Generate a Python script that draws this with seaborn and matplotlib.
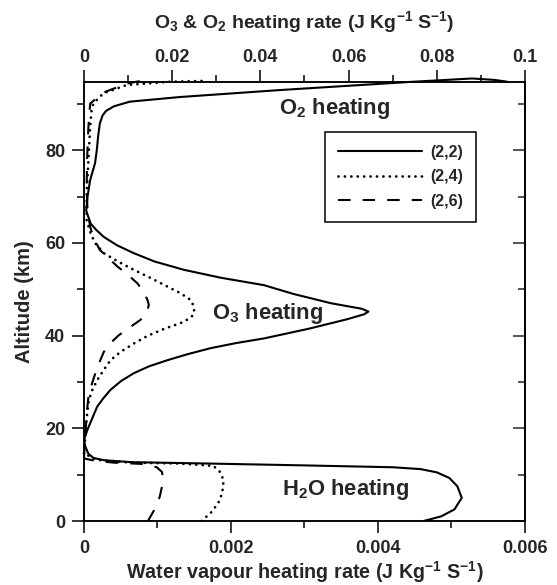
import numpy as np
import pandas as pd
import matplotlib
matplotlib.use("Agg")
import matplotlib.pyplot as plt
import seaborn as sns

# Water vapour heating (bottom axis), low altitudes
h2o_alt_22 = [0, 1, 2.5, 5, 7.5, 9.3, 10.5, 11.2, 11.6, 12.0, 12.4, 12.7, 13.1, 13.6, 14.5, 16, 17.5]
h2o_val_22 = [0.00462, 0.00486, 0.00504, 0.00514, 0.00508, 0.00497, 0.00480, 0.00458, 0.00420,
              0.00300, 0.00170, 0.00065, 0.00028, 0.00013, 0.00006, 0.00002, 0.0]
h2o_alt_24 = [0, 2, 4, 6, 8.8, 10.6, 11.9, 12.4, 12.6, 13.2, 14.6]
h2o_val_24 = [0.0016, 0.00174, 0.00183, 0.00188, 0.0019, 0.00185, 0.00176, 0.0013, 0.00063, 0.00017, 0.0]
h2o_alt_26 = [0, 2.5, 5.2, 8.8, 10.6, 11.6, 12.3, 12.6, 13.0, 13.5]
h2o_val_26 = [0.00087, 0.00096, 0.00103, 0.00108, 0.00106, 0.00099, 0.00081, 0.0004, 0.00015, 0.0]

# O3 & O2 heating (top axis), upper altitudes
o_alt_22 = [17.5, 19.6, 22, 24.7, 26.5, 28.3, 30.2, 31.9, 33.4, 34.7, 36.0, 37.3, 38.4, 39.4, 41.5,
            43.5, 44.6, 45.2, 45.8, 47.0, 49.0, 50.9, 52.5, 54.2, 56.0, 57.8, 59.5, 61.3, 62.8, 64.2,
            67, 70, 73.6, 77.2, 80, 83, 85.8, 87.5, 88.5, 89.5, 90.5, 91.5, 93.0, 94.8, 95.5, 95.2, 94.8]
o_val_22 = [0.0, 0.00075, 0.0018, 0.003, 0.0044, 0.006, 0.0084, 0.0113, 0.0148, 0.0189, 0.0235, 0.0287,
            0.0345, 0.0408, 0.051, 0.0595, 0.0635, 0.0645, 0.0630, 0.056, 0.0475, 0.0408, 0.031,
            0.0227, 0.016, 0.0113, 0.0075, 0.0045, 0.0028, 0.0015, 0.0005, 0.0008, 0.0014, 0.0025,
            0.0029, 0.0032, 0.0036, 0.0042, 0.0050, 0.0068, 0.0104, 0.0218, 0.0444, 0.0747, 0.088,
            0.093, 0.096]
o_alt_24 = [14.6, 17, 20, 23, 26.1, 28.3, 30.4, 32.5, 34.7, 36.5, 38.3, 40.0, 41.4, 43.0, 44.2, 45.2,
            46.5, 47.7, 49.2, 50.6, 52.4, 54.2, 56.0, 57.8, 60, 62.1, 64.9, 70.7, 77.9, 85.1, 88.5,
            90.1, 92.3, 94.1, 94.8, 95]
o_val_24 = [0.0, 0.0002, 0.0004, 0.0007, 0.0011, 0.0019, 0.003, 0.0044, 0.006, 0.0083, 0.0113, 0.0145,
            0.018, 0.0227, 0.0245, 0.025, 0.0248, 0.0242, 0.0218, 0.0189, 0.0152, 0.0113, 0.0077,
            0.0045, 0.0025, 0.0015, 0.0006, 0.0006, 0.001, 0.0014, 0.0017, 0.0021, 0.0044, 0.0097,
            0.0195, 0.028]
o_alt_26 = [13.5, 17, 20, 24, 26.8, 29, 31.1, 33.8, 36.5, 38.4, 40.1, 42.2, 43.4, 45, 46.6, 47.7,
            49.5, 51.3, 53.2, 54.9, 56.8, 58.5, 61, 63.5, 67, 72, 78, 85, 90.1, 92.5, 94.4, 95]
o_val_26 = [0.0, 0.0002, 0.0004, 0.0007, 0.001, 0.0016, 0.0023, 0.0033, 0.0045, 0.006, 0.0079, 0.011,
            0.0128, 0.0142, 0.0147, 0.0144, 0.0135, 0.0121, 0.0099, 0.0076, 0.0055, 0.0036, 0.0022,
            0.0014, 0.0008, 0.0006, 0.0007, 0.001, 0.0014, 0.0045, 0.0097, 0.013]

labels = ['(2,2)', '(2,4)', '(2,6)']
bottom_ticks = [0, 0.002, 0.004, 0.006]
bottom_ticklabels = ['0', '0.002', '0.004', '0.006']
top_ticks = [0, 0.02, 0.04, 0.06, 0.08, 0.1]
top_ticklabels = ['0', '0.02', '0.04', '0.06', '0.08', '0.1']
y_ticks = [0, 20, 40, 60, 80]
y_minor = [10, 30, 50, 70, 90]

sns.set_theme(style="ticks")
plt.rcParams['font.family'] = ['Liberation Sans', 'DejaVu Sans']
plt.rcParams['font.weight'] = 'bold'
plt.rcParams['mathtext.fontset'] = 'custom'
plt.rcParams['mathtext.rm'] = 'Liberation Sans:bold'
plt.rcParams['mathtext.it'] = 'Liberation Sans:bold'
plt.rcParams['mathtext.bf'] = 'Liberation Sans:bold'
plt.rcParams['mathtext.default'] = 'rm'

fig = plt.figure(figsize=(5.57, 5.85), dpi=100)
ax = fig.add_axes([0.1508, 0.1094, 0.7917, 0.7509])
ax_top = ax.twiny()

# solid, dotted, dashed
styles = [dict(linestyle='-', linewidth=1.5),
          dict(linestyle=(0, (0.01, 2.3)), linewidth=2.0, dash_capstyle='round'),
          dict(linestyle=(0, (6, 5.8)), linewidth=1.5)]
lower = [(h2o_alt_22, h2o_val_22), (h2o_alt_24, h2o_val_24), (h2o_alt_26, h2o_val_26)]
upper = [(o_alt_22, o_val_22), (o_alt_24, o_val_24), (o_alt_26, o_val_26)]

for (alt, val), st in zip(lower, styles):
    df = pd.DataFrame({'alt': alt, 'rate': val})
    sns.lineplot(data=df, x='rate', y='alt', sort=False, estimator=None, ax=ax,
                 color='black', **st)

for (alt, val), st, lab in zip(upper, styles, labels):
    df = pd.DataFrame({'alt': alt, 'rate': val})
    sns.lineplot(data=df, x='rate', y='alt', sort=False, estimator=None, ax=ax_top,
                 color='black', label=lab, clip_on=False, **st)

ax.set_ylim(0, 94.8)
ax.set_xlim(0, 0.006)
ax_top.set_xlim(0, 0.1)

ax.set_xticks(bottom_ticks)
ax.set_xticklabels(bottom_ticklabels)
ax.set_xticks(np.arange(0.001, 0.006, 0.002), minor=True)
ax.set_yticks(y_ticks)
ax.set_yticks(y_minor, minor=True)
ax_top.set_xticks(top_ticks)
ax_top.set_xticklabels(top_ticklabels)
ax_top.set_xticks(np.arange(0.01, 0.1, 0.02), minor=True)

for a in (ax, ax_top):
    for sp in a.spines.values():
        sp.set_linewidth(1.1)
        sp.set_color('black')
    a.tick_params(which='major', length=8.5, width=1.1, labelsize=13, color='black')
    a.tick_params(which='minor', length=5, width=1.1, color='black')

ax.tick_params(axis='x', which='major', pad=5)
ax.tick_params(axis='y', which='both', direction='out')
ax.tick_params(axis='y', which='major', pad=5)
ax_top.tick_params(axis='x', which='major', pad=3)

sec = ax.secondary_yaxis('right')
sec.set_yticks(y_ticks)
sec.set_yticks(y_minor, minor=True)
sec.tick_params(which='major', direction='in', length=8.5, width=1.1, labelright=False)
sec.tick_params(which='minor', direction='in', length=5, width=1.1)
sec.spines['right'].set_linewidth(1.1)

for lab in ax.get_xticklabels() + ax.get_yticklabels() + ax_top.get_xticklabels():
    lab.set_fontweight('bold')

ax.set_xlabel('Water vapour heating rate (J Kg$^{-1}$ S$^{-1}$)', fontsize=14.2, fontweight='bold', labelpad=2)
ax.set_ylabel('Altitude (km)', fontsize=14.5, fontweight='bold', labelpad=8)
ax_top.set_xlabel('O$_3$ & O$_2$ heating rate (J Kg$^{-1}$ S$^{-1}$)', fontsize=14, fontweight='bold', labelpad=15)
ax_top.set_ylabel('')

ax.text(0.00341, 89.1, 'O$_2$ heating', fontsize=15.8, fontweight='bold', ha='center', va='center')
ax.text(0.0025, 44.7, 'O$_3$ heating', fontsize=15.8, fontweight='bold', ha='center', va='center')
ax.text(0.00356, 6.7, 'H$_2$O heating', fontsize=15.8, fontweight='bold', ha='center', va='center')

leg = ax_top.legend(loc='upper right', bbox_to_anchor=(0.889, 0.8855), frameon=True, fancybox=False,
                    edgecolor='black', framealpha=1, handlelength=5.3, fontsize=11.5,
                    labelspacing=0.6, borderpad=0.8, handletextpad=0.5, borderaxespad=0)
leg.get_frame().set_linewidth(1.1)
for t in leg.get_texts():
    t.set_fontweight('bold')

fig.savefig('out.png', dpi=100)
